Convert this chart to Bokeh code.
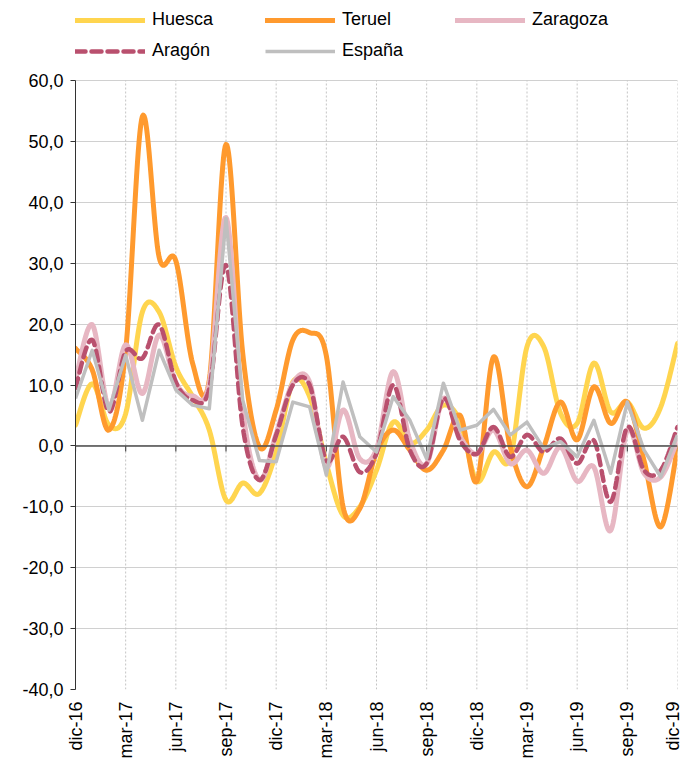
import numpy as np
from math import pi
from bokeh.plotting import figure
from bokeh.models import Range1d, FixedTicker, Legend, LegendItem, Span
from bokeh.embed import file_html
from bokeh.resources import INLINE

# ---- data (monthly, dic-16 .. dic-19) ----
meses_idx = list(range(37))
tick_pos = [0, 3, 6, 9, 12, 15, 18, 21, 24, 27, 30, 33, 36]
tick_labels = ["dic-16", "mar-17", "jun-17", "sep-17", "dic-17", "mar-18", "jun-18",
               "sep-18", "dic-18", "mar-19", "jun-19", "sep-19", "dic-19"]
y_ticks = [-40, -30, -20, -10, 0, 10, 20, 30, 40, 50, 60]

huesca = [3.4, 10.2, 3.4, 5.3, 22.0, 22.0, 13.0, 8.1, 2.6, -8.9, -6.1, -7.8, -1.0,
          10.5, 8.1, -2.9, -11.4, -10.0, -4.0, 3.9, 0.4, 2.6, 6.7, 4.0, -5.8,
          -1.0, -2.0, 16.3, 16.3, 5.4, 3.7, 13.6, 5.6, 7.2, 2.9, 6.4, 16.8]
teruel = [16.0, 12.5, 2.6, 15.7, 54.1, 31.0, 30.4, 13.6, 10.8, 49.5, 15.2, -0.2, 5.9,
          17.4, 18.6, 14.8, -10.0, -10.3, -1.0, 2.6, -0.7, -4.0, -0.7, 5.0, -5.8,
          14.6, -0.2, -6.7, -0.2, 7.2, 1.0, 9.7, 3.7, 7.2, -2.4, -13.3, -0.3]
zaragoza = [10.8, 19.9, 6.4, 16.6, 8.6, 18.2, 10.3, 8.2, 10.3, 37.5, 5.9, -5.6, 2.0,
            10.3, 10.5, -3.5, 5.9, -2.1, -0.5, 12.2, 0.9, -2.9, 7.8, 1.5, -1.3,
            2.6, -2.9, -0.7, -4.5, -0.2, -5.8, -3.5, -13.9, 2.6, -4.5, -5.1, 0.9]
aragon = [9.5, 17.4, 5.6, 15.5, 14.4, 19.9, 10.5, 7.5, 9.4, 29.7, 3.1, -5.6, 1.8,
          10.0, 10.0, -2.4, 1.5, -4.3, -1.2, 10.0, -0.7, -2.9, 7.8, 0.9, -1.3,
          3.1, -1.8, 1.8, -1.0, 1.2, -2.9, 0.9, -9.2, 3.1, -4.0, -4.0, 3.1]
espana = [7.8, 15.7, 5.9, 14.9, 4.2, 15.7, 9.2, 6.7, 6.1, 37.4, 7.5, -2.4, -2.6,
          7.2, 6.4, -4.8, 10.5, 1.5, -1.0, 8.1, 4.2, -2.1, 10.3, 2.6, 3.4,
          6.0, 1.8, 3.9, -0.4, 0.7, -1.8, 4.2, -4.5, 7.2, -0.7, -5.1, 1.8]


def smooth(xv, yv, n=20):
    """Excel-like smoothed line (Catmull-Rom / Bezier) through the points."""
    x = np.asarray(xv, float)
    y = np.asarray(yv, float)
    px = np.concatenate([[x[0]], x, [x[-1]]])
    py = np.concatenate([[y[0]], y, [y[-1]]])
    xs, ys = [], []
    t = np.linspace(0, 1, n, endpoint=False)
    for i in range(len(x) - 1):
        x0, x1, x2, x3 = px[i:i + 4]
        y0, y1, y2, y3 = py[i:i + 4]
        cx1, cy1 = x1 + (x2 - x0) / 6, y1 + (y2 - y0) / 6
        cx2, cy2 = x2 - (x3 - x1) / 6, y2 - (y3 - y1) / 6
        b0 = (1 - t) ** 3
        b1 = 3 * (1 - t) ** 2 * t
        b2 = 3 * (1 - t) * t ** 2
        b3 = t ** 3
        xs.extend(b0 * x1 + b1 * cx1 + b2 * cx2 + b3 * x2)
        ys.extend(b0 * y1 + b1 * cy1 + b2 * cy2 + b3 * y2)
    xs.append(x[-1])
    ys.append(y[-1])
    return xs, ys


FONT = "Liberation Sans"
FS = "18px"
Y_MIN, Y_MAX = y_ticks[0], y_ticks[-1]

# frame extends to top of figure so the legend fits inside; axis/grid bounded to -40..60
p = figure(width=682, height=767, output_backend="svg", toolbar_location=None,
           x_range=Range1d(0, 36.0), y_range=Range1d(Y_MIN, 73.14),
           min_border_left=75, min_border_right=5, min_border_top=0, min_border_bottom=78)
p.outline_line_color = None
p.background_fill_color = "white"
p.border_fill_color = "white"

# grids
p.ygrid.ticker = FixedTicker(ticks=y_ticks)
p.ygrid.grid_line_color = "#d0d0d0"
p.ygrid.grid_line_width = 1
p.xgrid.grid_line_color = None
p.segment(x0=tick_pos, y0=[Y_MIN] * len(tick_pos), x1=tick_pos, y1=[Y_MAX] * len(tick_pos),
          line_color="#c4c4c4", line_dash="2 2", line_width=1)

# y axis
p.yaxis.ticker = FixedTicker(ticks=y_ticks)
p.yaxis.bounds = (Y_MIN, Y_MAX)
p.yaxis.major_label_overrides = {v: f"{v},0" for v in y_ticks}
p.yaxis.major_label_text_font = FONT
p.yaxis.major_label_text_font_size = FS
p.yaxis.major_label_text_color = "#000000"
p.yaxis.axis_line_color = "#333333"
p.yaxis.major_tick_line_color = "#333333"
p.yaxis.major_tick_out = 5
p.yaxis.major_tick_in = 0
p.yaxis.minor_tick_line_color = None
p.yaxis.major_label_standoff = 7

# x axis (labels only)
p.xaxis.ticker = FixedTicker(ticks=tick_pos)
p.xaxis.major_label_overrides = {t: l for t, l in zip(tick_pos, tick_labels)}
p.xaxis.major_label_orientation = pi / 2
p.xaxis.major_label_text_font = FONT
p.xaxis.major_label_text_font_size = FS
p.xaxis.major_label_text_color = "#000000"
p.xaxis.axis_line_color = None
p.xaxis.major_tick_line_color = None
p.xaxis.minor_tick_line_color = None
p.xaxis.major_label_standoff = 6

# zero line with tick marks
p.add_layout(Span(location=0, dimension="width", line_color="#4d4d4d", line_width=1.5))
p.segment(x0=tick_pos, y0=[0] * len(tick_pos), x1=tick_pos, y1=[-0.9] * len(tick_pos),
          line_color="#4d4d4d", line_width=1.2)

# series
hx, hy = smooth(meses_idx, huesca)
tx, ty = smooth(meses_idx, teruel)
zx, zy = smooth(meses_idx, zaragoza)
ax, ay = smooth(meses_idx, aragon)

r_h = p.line(hx, hy, line_color="#FFD54F", line_width=5, line_join="round", line_cap="round")
r_t = p.line(tx, ty, line_color="#FF9A2E", line_width=5, line_join="round", line_cap="round")
r_z = p.line(zx, zy, line_color="#E7B7C3", line_width=5, line_join="round", line_cap="round")
r_a = p.line(ax, ay, line_color="#B9506E", line_width=4.5, line_dash="10 6", line_cap="round")
r_e = p.line(meses_idx, espana, line_color="#BFBFBF", line_width=3.5, line_join="round")


def make_legend(items, loc):
    return Legend(items=items, location=loc, orientation="horizontal",
                  glyph_width=70, glyph_height=20, label_width=110, label_height=20,
                  label_standoff=7, spacing=3, padding=0, margin=0,
                  label_text_font=FONT, label_text_font_size=FS,
                  label_text_color="#000000", background_fill_alpha=0,
                  border_line_alpha=0)


leg1 = make_legend([LegendItem(label="Huesca", renderers=[r_h]),
                    LegendItem(label="Teruel", renderers=[r_t]),
                    LegendItem(label="Zaragoza", renderers=[r_z])], (0, 659))
leg2 = make_legend([LegendItem(label="Aragón", renderers=[r_a]),
                    LegendItem(label="España", renderers=[r_e])], (0, 628))
p.add_layout(leg1)
p.add_layout(leg2)

open("out.html", "w").write(file_html(p, INLINE))
